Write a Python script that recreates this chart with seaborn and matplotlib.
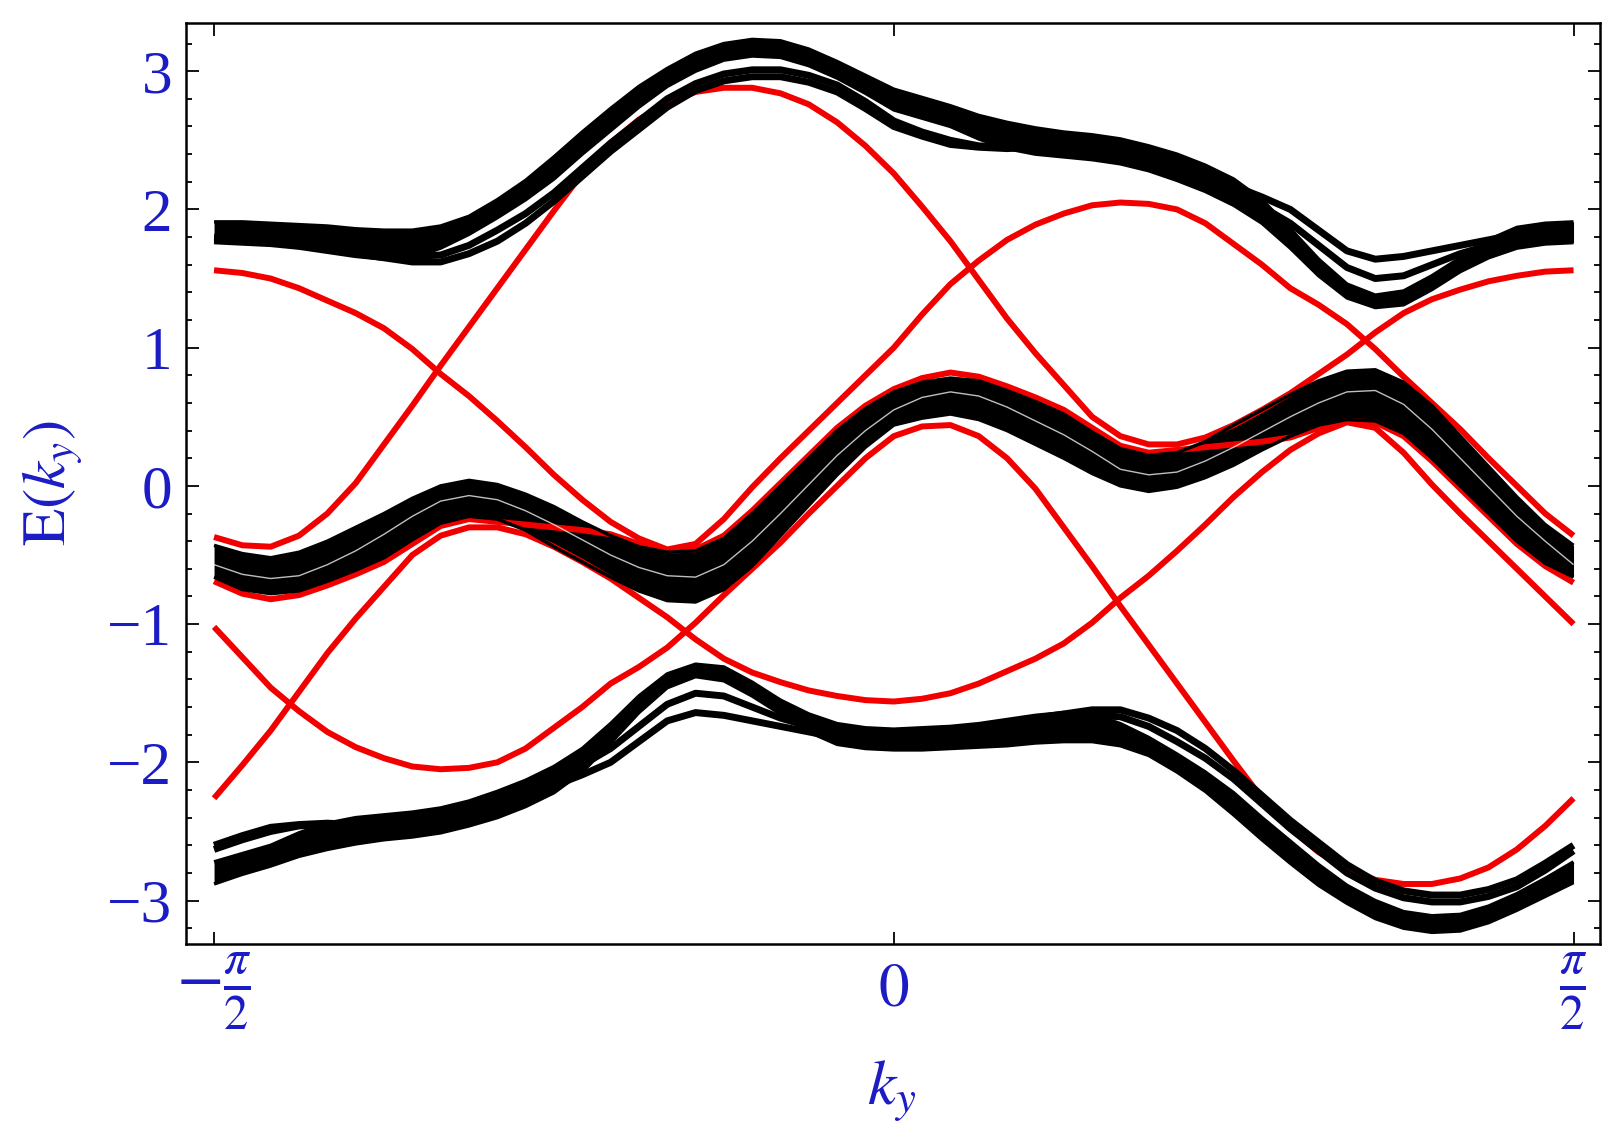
import numpy as np
import seaborn as sns
import matplotlib.pyplot as plt
from matplotlib.ticker import MultipleLocator

# ky sample positions: 49 points across -pi/2 .. pi/2
ky = np.linspace(-np.pi / 2, np.pi / 2, 49)

# ---- bulk bands (black): ribbon top / ribbon bottom / two split-off lines ----
top_hi = [1.91, 1.91, 1.90, 1.89, 1.88, 1.86, 1.85, 1.85, 1.88, 1.95, 2.07, 2.21, 2.38,
          2.56, 2.73, 2.89, 3.02, 3.13, 3.20, 3.23, 3.22, 3.16, 3.07, 2.97, 2.87,
          2.81, 2.75, 2.68, 2.63, 2.59, 2.56, 2.54, 2.51, 2.46, 2.40, 2.32, 2.22,
          2.07, 1.86, 1.64, 1.46, 1.38, 1.41, 1.52, 1.65, 1.78, 1.87, 1.90, 1.91]
top_lo = [1.76, 1.75, 1.74, 1.72, 1.69, 1.66, 1.64, 1.65, 1.72, 1.82, 1.94, 2.07, 2.22,
          2.40, 2.57, 2.74, 2.89, 3.00, 3.08, 3.11, 3.10, 3.04, 2.95, 2.84, 2.72,
          2.66, 2.60, 2.51, 2.44, 2.40, 2.38, 2.36, 2.33, 2.28, 2.21, 2.13, 2.03,
          1.90, 1.72, 1.52, 1.36, 1.29, 1.31, 1.42, 1.55, 1.65, 1.72, 1.75, 1.76]
top_a = [1.80, 1.79, 1.78, 1.76, 1.74, 1.71, 1.68, 1.66, 1.67, 1.74, 1.85, 1.97, 2.12,
         2.30, 2.48, 2.64, 2.80, 2.91, 2.98, 3.01, 3.01, 2.97, 2.90, 2.78, 2.64,
         2.56, 2.50, 2.46, 2.45, 2.45, 2.45, 2.44, 2.42, 2.37, 2.30, 2.23, 2.13,
         2.02, 1.90, 1.74, 1.58, 1.50, 1.52, 1.60, 1.68, 1.74, 1.78, 1.80, 1.80]
top_b = [1.78, 1.77, 1.76, 1.74, 1.71, 1.68, 1.65, 1.62, 1.62, 1.68, 1.77, 1.90, 2.06,
         2.24, 2.42, 2.58, 2.74, 2.86, 2.93, 2.96, 2.96, 2.92, 2.85, 2.73, 2.60,
         2.53, 2.47, 2.45, 2.44, 2.45, 2.45, 2.44, 2.42, 2.37, 2.30, 2.24, 2.17,
         2.09, 2.00, 1.85, 1.70, 1.64, 1.66, 1.70, 1.74, 1.78, 1.82, 1.82, 1.80]

mid_hi = [-0.43, -0.49, -0.52, -0.48, -0.40, -0.30, -0.20, -0.09, 0.00, 0.04, 0.01, -0.06, -0.15,
          -0.26, -0.36, -0.44, -0.48, -0.47, -0.38, -0.20, 0.00, 0.20, 0.40, 0.56, 0.68,
          0.75, 0.78, 0.76, 0.69, 0.61, 0.52, 0.39, 0.27, 0.22, 0.24, 0.32, 0.44,
          0.55, 0.66, 0.76, 0.83, 0.84, 0.75, 0.58, 0.36, 0.14, -0.08, -0.28, -0.43]
mid_lo = [-0.66, -0.75, -0.78, -0.76, -0.69, -0.61, -0.52, -0.39, -0.27, -0.22, -0.24, -0.32, -0.44,
          -0.55, -0.66, -0.76, -0.83, -0.84, -0.75, -0.58, -0.36, -0.14, 0.08, 0.28, 0.44,
          0.49, 0.52, 0.48, 0.40, 0.30, 0.20, 0.09, 0.00, -0.04, -0.01, 0.06, 0.15,
          0.26, 0.36, 0.44, 0.48, 0.47, 0.38, 0.20, 0.00, -0.20, -0.40, -0.56, -0.66]
# thin white streak seen inside the middle band
mid_gap = [-0.57, -0.64, -0.67, -0.65, -0.57, -0.47, -0.35, -0.22, -0.11, -0.07, -0.10, -0.18, -0.28,
           -0.39, -0.50, -0.59, -0.65, -0.66, -0.57, -0.40, -0.20, 0.01, 0.22, 0.40, 0.55,
           0.64, 0.68, 0.65, 0.57, 0.47, 0.37, 0.25, 0.12, 0.08, 0.10, 0.18, 0.28,
           0.39, 0.50, 0.60, 0.68, 0.69, 0.59, 0.41, 0.20, -0.01, -0.22, -0.40, -0.57]

bot_hi = [-2.72, -2.66, -2.60, -2.51, -2.44, -2.40, -2.38, -2.36, -2.33, -2.28, -2.21, -2.13, -2.03,
          -1.90, -1.72, -1.52, -1.36, -1.29, -1.31, -1.42, -1.55, -1.65, -1.72, -1.75, -1.76,
          -1.75, -1.74, -1.72, -1.69, -1.66, -1.64, -1.65, -1.72, -1.82, -1.94, -2.07, -2.22,
          -2.40, -2.57, -2.74, -2.89, -3.00, -3.08, -3.11, -3.10, -3.04, -2.95, -2.84, -2.72]
bot_lo = [-2.88, -2.81, -2.75, -2.68, -2.63, -2.59, -2.56, -2.54, -2.51, -2.46, -2.40, -2.32, -2.22,
          -2.07, -1.86, -1.64, -1.46, -1.38, -1.41, -1.52, -1.65, -1.78, -1.87, -1.90, -1.91,
          -1.91, -1.90, -1.89, -1.88, -1.86, -1.85, -1.85, -1.88, -1.95, -2.07, -2.21, -2.38,
          -2.56, -2.73, -2.89, -3.02, -3.13, -3.20, -3.23, -3.22, -3.16, -3.07, -2.97, -2.87]
bot_a = [-2.63, -2.56, -2.50, -2.46, -2.45, -2.45, -2.45, -2.44, -2.42, -2.37, -2.30, -2.23, -2.13,
         -2.02, -1.90, -1.74, -1.58, -1.50, -1.52, -1.60, -1.68, -1.74, -1.78, -1.80, -1.80,
         -1.79, -1.78, -1.76, -1.74, -1.71, -1.68, -1.66, -1.67, -1.74, -1.85, -1.97, -2.12,
         -2.30, -2.48, -2.64, -2.80, -2.91, -2.98, -3.01, -3.01, -2.97, -2.90, -2.78, -2.64]
bot_b = [-2.60, -2.53, -2.47, -2.45, -2.44, -2.45, -2.45, -2.44, -2.42, -2.37, -2.30, -2.24, -2.17,
         -2.09, -2.00, -1.85, -1.70, -1.64, -1.66, -1.70, -1.74, -1.78, -1.82, -1.82, -1.80,
         -1.77, -1.76, -1.74, -1.71, -1.68, -1.65, -1.62, -1.62, -1.68, -1.77, -1.90, -2.06,
         -2.24, -2.42, -2.58, -2.74, -2.86, -2.93, -2.96, -2.96, -2.92, -2.85, -2.73, -2.60]

# ---- edge states (red) ----
edge_1 = [1.56, 1.54, 1.50, 1.43, 1.34, 1.25, 1.14, 0.99, 0.81, 0.65, 0.47, 0.28, 0.08,
          -0.10, -0.26, -0.38, -0.46, -0.42, -0.24, -0.01, 0.20, 0.40, 0.60, 0.80, 1.00,
          1.24, 1.46, 1.63, 1.78, 1.89, 1.97, 2.03, 2.05, 2.04, 2.00, 1.90, 1.75,
          1.60, 1.43, 1.31, 1.17, 0.99, 0.79, 0.60, 0.41, 0.20, 0.00, -0.20, -0.36]
edge_2 = [-0.37, -0.43, -0.44, -0.36, -0.20, 0.02, 0.30, 0.58, 0.87, 1.15, 1.43, 1.71, 1.99,
          2.26, 2.48, 2.65, 2.77, 2.85, 2.88, 2.88, 2.84, 2.76, 2.63, 2.46, 2.26,
          2.02, 1.77, 1.49, 1.21, 0.96, 0.73, 0.50, 0.36, 0.30, 0.30, 0.35, 0.44,
          0.55, 0.67, 0.81, 0.95, 1.11, 1.25, 1.35, 1.42, 1.48, 1.52, 1.55, 1.56]
edge_3 = [-1.02, -1.24, -1.46, -1.63, -1.78, -1.89, -1.97, -2.03, -2.05, -2.04, -2.00, -1.90, -1.75,
          -1.60, -1.43, -1.31, -1.17, -0.99, -0.79, -0.60, -0.41, -0.20, 0.00, 0.20, 0.36,
          0.43, 0.44, 0.36, 0.20, -0.02, -0.30, -0.58, -0.87, -1.15, -1.43, -1.71, -1.99,
          -2.26, -2.48, -2.65, -2.77, -2.85, -2.88, -2.88, -2.84, -2.76, -2.63, -2.46, -2.26]
edge_4 = [-2.26, -2.02, -1.77, -1.49, -1.21, -0.96, -0.73, -0.50, -0.36, -0.30, -0.30, -0.35, -0.44,
          -0.55, -0.67, -0.81, -0.95, -1.11, -1.25, -1.35, -1.42, -1.48, -1.52, -1.55, -1.56,
          -1.54, -1.50, -1.43, -1.34, -1.25, -1.14, -0.99, -0.81, -0.65, -0.47, -0.28, -0.08,
          0.10, 0.26, 0.38, 0.46, 0.42, 0.24, 0.01, -0.20, -0.40, -0.60, -0.80, -1.00]
edge_5 = [-0.69, -0.78, -0.82, -0.79, -0.72, -0.64, -0.55, -0.42, -0.29, -0.24, -0.26, -0.28, -0.30,
          -0.32, -0.35, -0.42, -0.47, -0.46, -0.36, -0.18, 0.02, 0.22, 0.42, 0.58, 0.70,
          0.78, 0.82, 0.79, 0.72, 0.64, 0.55, 0.42, 0.29, 0.24, 0.26, 0.28, 0.30,
          0.32, 0.35, 0.42, 0.47, 0.46, 0.36, 0.18, -0.02, -0.22, -0.42, -0.58, -0.70]

ytick_vals = [-3, -2, -1, 0, 1, 2, 3]
xtick_vals = [-np.pi / 2, 0, np.pi / 2]
xtick_labels = [r'$-\frac{\pi}{2}$', r'$0$', r'$\frac{\pi}{2}$']

BLUE = '#1c1cc4'
RED = '#f20000'

sns.set_style("ticks")
plt.rcParams['font.family'] = ['Liberation Serif', 'DejaVu Serif']
plt.rcParams['mathtext.fontset'] = 'stix'

fig = plt.figure(figsize=(16.21, 11.42), dpi=100)
ax = fig.add_axes([0.1147, 0.1734, 0.8723, 0.8065])

line_kw = dict(estimator=None, sort=False, solid_capstyle='butt', solid_joinstyle='round')

# edge states first, bulk bands drawn over them
for e in [edge_1, edge_2, edge_3, edge_4, edge_5]:
    sns.lineplot(x=ky, y=e, color=RED, lw=4.3, ax=ax, **line_kw)

for hi, lo in [(top_hi, top_lo), (mid_hi, mid_lo), (bot_hi, bot_lo)]:
    ax.fill_between(ky, lo, hi, color='k', lw=0)
    sns.lineplot(x=ky, y=hi, color='k', lw=2.5, ax=ax, **line_kw)
    sns.lineplot(x=ky, y=lo, color='k', lw=2.5, ax=ax, **line_kw)

for ln in [top_a, top_b, bot_a, bot_b]:
    sns.lineplot(x=ky, y=ln, color='k', lw=5, ax=ax, **line_kw)

sns.lineplot(x=ky, y=mid_gap, color='white', lw=1.0, alpha=0.75, ax=ax, **line_kw)

ax.set_xlim(-np.pi / 2 - 0.065, np.pi / 2 + 0.061)
ax.set_ylim(-3.314, 3.349)

ax.set_yticks(ytick_vals)
ax.set_yticklabels([str(v).replace('-', '\u2212') for v in ytick_vals])
ax.yaxis.set_minor_locator(MultipleLocator(0.2))
ax.set_xticks(xtick_vals)
ax.set_xticklabels(xtick_labels)

ax.tick_params(axis='both', which='both', direction='in', top=True, right=True,
               colors='k', labelcolor=BLUE, width=1.3)
ax.tick_params(axis='both', which='major', length=9)
ax.tick_params(axis='y', which='minor', length=4.5)
ax.tick_params(axis='y', labelsize=44, pad=10)
ax.tick_params(axis='x', labelsize=44, pad=34)
xlbls = ax.get_xticklabels()
plt.setp(xlbls, va='center')
xlbls[0].set_fontsize(50)
xlbls[2].set_fontsize(50)

for s in ax.spines.values():
    s.set_linewidth(1.8)
    s.set_color('k')

ax.set_xlabel(r'$k_y$', fontsize=46, color=BLUE, va='center')
ax.xaxis.set_label_coords(0.499, -0.16)
ax.set_ylabel(r'$\mathrm{E}(k_y)$', fontsize=44, color=BLUE, va='center')
ax.yaxis.set_label_coords(-0.095, 0.5)

fig.savefig('out.png', dpi=100)
